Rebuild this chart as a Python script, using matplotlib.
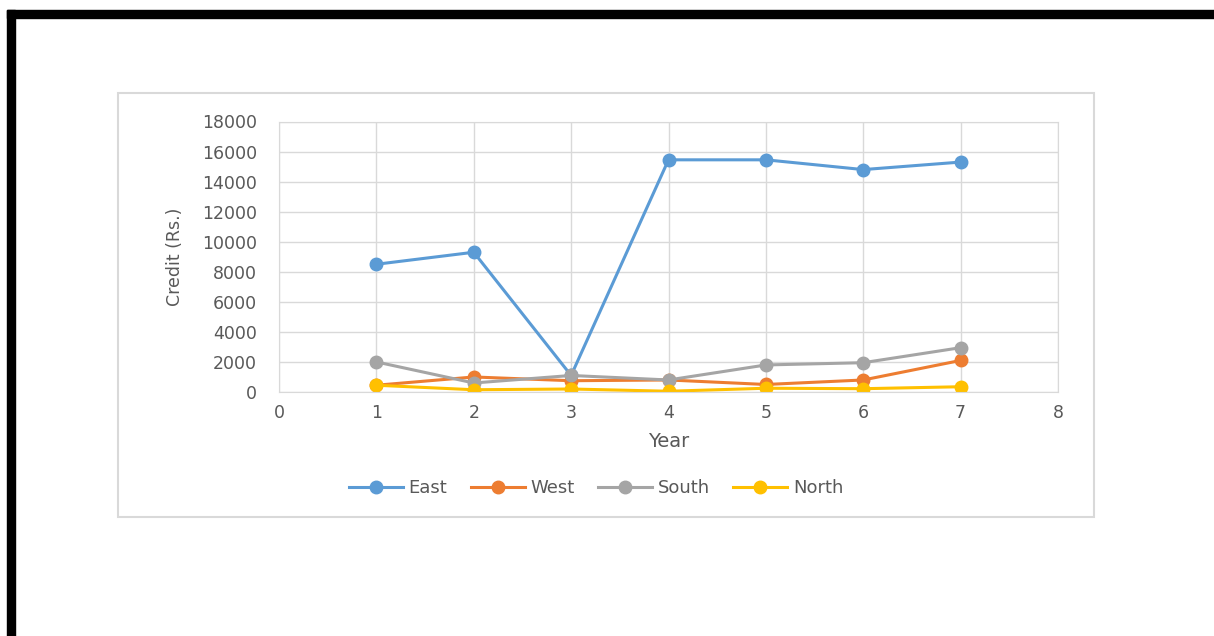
import matplotlib.pyplot as plt
from matplotlib.patches import Rectangle

# data
years = [1, 2, 3, 4, 5, 6, 7]
east = [8500, 9300, 1100, 15450, 15450, 14800, 15300]
west = [450, 1000, 750, 800, 500, 800, 2100]
south = [2000, 600, 1100, 800, 1800, 1950, 2950]
north = [450, 150, 200, 50, 250, 220, 350]

series = [('East', east, '#5B9BD5'), ('West', west, '#ED7D31'),
          ('South', south, '#A5A5A5'), ('North', north, '#FFC000')]

plt.rcParams['font.family'] = ['DejaVu Sans']
grey = '#595959'

fig = plt.figure(figsize=(12.14, 6.36), dpi=100)

# black page border (top and left)
fig.patches.append(Rectangle((7 / 1214, 1 - 18 / 636), 1, 8 / 636, transform=fig.transFigure,
                             color='black', zorder=0))
fig.patches.append(Rectangle((7 / 1214, 0), 8 / 1214, 1 - 10 / 636, transform=fig.transFigure,
                             color='black', zorder=0))
# chart area box
fig.patches.append(Rectangle((118 / 1214, 1 - 517 / 636), (1094 - 118) / 1214, (517 - 93) / 636,
                             transform=fig.transFigure, fill=False, edgecolor='#d9d9d9',
                             linewidth=1.5, zorder=0))

ax = fig.add_axes([279 / 1214, 1 - 392 / 636, (1058 - 279) / 1214, (392 - 121.5) / 636])

for name, vals, col in series:
    ax.plot(years, vals, color=col, linewidth=2.2, marker='o', markersize=9, label=name)

ax.set_xlim(0, 8)
ax.set_ylim(0, 18000)
ax.set_xticks(range(0, 9))
ax.set_yticks(range(0, 18001, 2000))
ax.grid(True, color='#d9d9d9', linewidth=1)
ax.set_axisbelow(True)
for s in ax.spines.values():
    s.set_color('#d9d9d9')
ax.tick_params(length=0, colors=grey, labelsize=12.5)
ax.tick_params(axis='y', pad=16)
ax.tick_params(axis='x', pad=9)
ax.set_xlabel('Year', fontsize=14, color=grey, labelpad=7)
ax.set_ylabel('Credit (Rs.)', fontsize=12.5, color=grey, labelpad=13)

fig.legend(loc='center', bbox_to_anchor=(596 / 1214, 1 - 488 / 636), ncol=4, frameon=False,
           fontsize=13, handlelength=3, columnspacing=1.3, handletextpad=0.3, labelcolor=grey)

fig.savefig('out.png', dpi=100)
